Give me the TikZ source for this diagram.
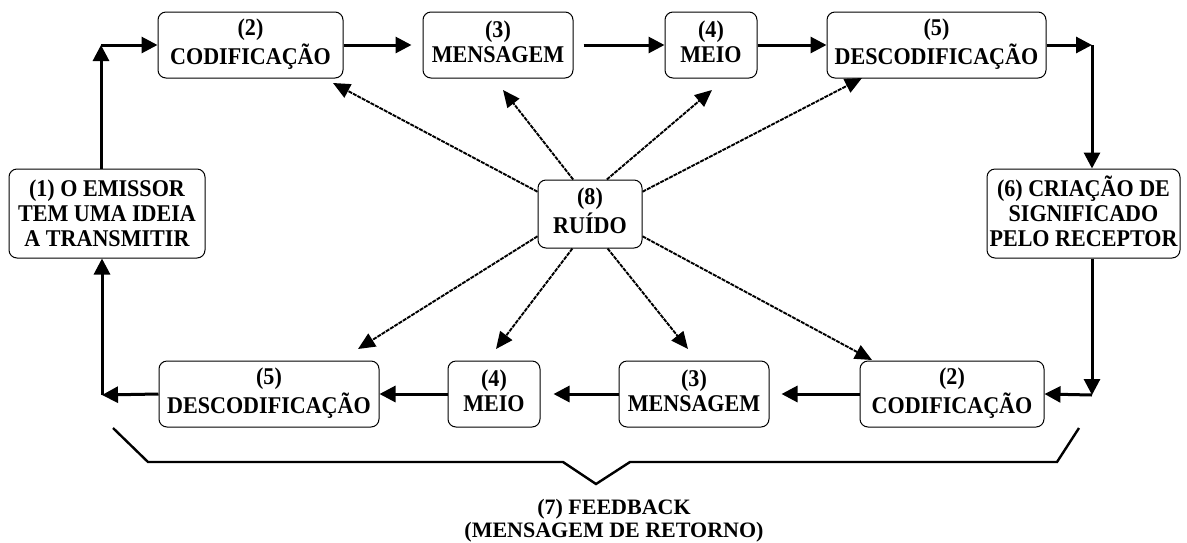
\documentclass[tikz,border=0pt]{standalone}
\usepackage{fontspec}
\setmainfont{Liberation Serif}[FakeStretch=0.92]
\newfontfamily\fbfont{Liberation Serif}
\newcommand\topgap{\rule{0pt}{23.5pt}}
\usetikzlibrary{arrows.meta,calc}
\begin{document}
\begin{tikzpicture}[x=1pt,y=-1pt,
  box/.style={draw,line width=1pt,rounded corners=8pt,align=center,inner sep=0pt,
    font=\fontsize{24}{25}\selectfont\bfseries},
  flow/.style={line width=3pt,-{Triangle[length=16pt,width=16pt]}},
  noise/.style={line width=1.9pt,dash pattern=on 4pt off 1pt,-{Triangle[length=17pt,width=15pt]}},
  brace/.style={line width=2.4pt},
  fb/.style={align=center,inner sep=0pt,font=\fbfont\fontsize{22}{22.5}\selectfont\bfseries}]
\useasboundingbox (0,0) rectangle (1187,542);

% boxes
\node[box,minimum width=196pt,minimum height=89pt] (e1) at (107,213.5) {\topgap(1) O EMISSOR\\TEM UMA IDEIA\\A TRANSMITIR\strut};
\node[box,minimum width=185pt,minimum height=66pt] (c2) at (250.5,45) {\strut(2)\\CODIFICAÇÃO\strut};
\node[box,minimum width=150pt,minimum height=66pt] (m3) at (498,45) {\strut(3)\\MENSAGEM\strut};
\node[box,minimum width=92pt,minimum height=66pt] (me4) at (711,45) {\strut(4)\\MEIO\strut};
\node[box,minimum width=219pt,minimum height=66pt] (d5) at (936.5,45) {\strut(5)\\DESCODIFICAÇÃO\strut};
\node[box,minimum width=193pt,minimum height=89pt] (s6) at (1083.5,213.5) {\topgap(6) CRIAÇÃO DE\\SIGNIFICADO\\PELO RECEPTOR\strut};
\node[box,minimum width=104pt,minimum height=68pt] (r8) at (590,214) {\strut(8)\\RUÍDO\strut};
\node[box,minimum width=220pt,minimum height=66pt] (bd5) at (269,394) {\strut(5)\\DESCODIFICAÇÃO\strut};
\node[box,minimum width=92pt,minimum height=66pt] (bme4) at (494,394) {\strut(4)\\MEIO\strut};
\node[box,minimum width=150pt,minimum height=66pt] (bm3) at (694,394) {\strut(3)\\MENSAGEM\strut};
\node[box,minimum width=184pt,minimum height=66pt] (bc2) at (952,394) {\strut(2)\\CODIFICAÇÃO\strut};

% corners
\coordinate (tl) at (101,45);
\coordinate (tr) at (1092,45);
\coordinate (br) at (1092,395);
\coordinate (bl) at (102,395);

% main flow
\draw[flow] (tl |- e1.north) -- (tl);
\draw[flow] (tl) -- (c2.west);
\draw[flow] (c2.east) -- ($(m3.west)+(-11,0)$);
\draw[flow] ($(m3.east)+(10,0)$) -- (me4.west);
\draw[flow] (me4.east) -- (d5.west);
\draw[flow] (d5.east) -- (tr);
\draw[flow] (tr) -- (tr |- s6.north);
\draw[flow] (br |- s6.south) -- (br);
\draw[flow] (br) -- (bc2.east);
\draw[flow] (bc2.west) -- ($(bm3.east)+(12,0)$);
\draw[flow] (bm3.west) -- ($(bme4.east)+(13,0)$);
\draw[flow] (bme4.west) -- (bd5.east);
\draw[flow] (bd5.west) -- (bl);
\draw[flow] (bl) -- (bl |- e1.south);

% noise targets
\coordinate (n2t) at (333,83);
\coordinate (n3t) at (503,90);
\coordinate (n4t) at (712,90);
\coordinate (n5t) at (862,78);
\coordinate (n5b) at (358,349);
\coordinate (n4b) at (496,349);
\coordinate (n3b) at (688,349);
\coordinate (n2b) at (872,360);

\draw[noise] (r8.157) -- (n2t);
\draw[noise] (r8.116) -- (n3t);
\draw[noise] (r8.64) -- (n4t);
\draw[noise] (r8.23) -- (n5t);
\draw[noise] (r8.203) -- (n5b);
\draw[noise] (r8.243) -- (n4b);
\draw[noise] (r8.297) -- (n3b);
\draw[noise] (r8.337) -- (n2b);

% feedback brace
\draw[brace] (113,428) -- (148,462) -- (563,462) -- (596,484) -- (630,462) -- (1057,462) -- (1079,428);
\node[fb] (fb) at (614,520.5) {(7) FEEDBACK\\(MENSAGEM DE RETORNO)};
\end{tikzpicture}
\end{document}
